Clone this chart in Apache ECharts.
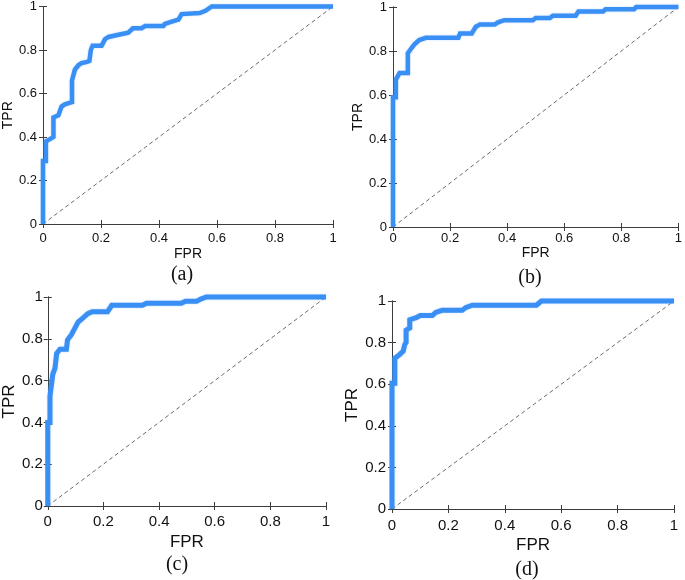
<!DOCTYPE html>
<html>
<head>
<meta charset="utf-8">
<script src="https://cdn.jsdelivr.net/npm/echarts@6/dist/echarts.min.js"></script>
<style>
html,body{margin:0;padding:0;background:#fff;}
#chart{width:685px;height:580px;}
</style>
</head>
<body>
<div id="chart"></div>
<script>
// Tick values (both axes)
const ticks = [0, 0.2, 0.4, 0.6, 0.8, 1];
const captions = ['(a)', '(b)', '(c)', '(d)'];
const xName = 'FPR';
const yName = 'TPR';
const diagX = [0, 1];
const diagY = [0, 1];

// ROC curve (a)
const fprA = [0, 0, 0.01, 0.01, 0.024, 0.036, 0.036, 0.053, 0.064, 0.075, 0.1, 0.1, 0.11, 0.122, 0.133, 0.152, 0.16, 0.165, 0.171, 0.202, 0.214, 0.226, 0.26, 0.294, 0.31, 0.34, 0.352, 0.415, 0.42, 0.444, 0.467, 0.478, 0.54, 0.56, 0.582, 1];
const tprA = [0, 0.29, 0.29, 0.38, 0.39, 0.40, 0.49, 0.50, 0.54, 0.55, 0.56, 0.66, 0.71, 0.73, 0.74, 0.745, 0.75, 0.80, 0.82, 0.82, 0.85, 0.86, 0.87, 0.88, 0.90, 0.90, 0.91, 0.91, 0.92, 0.93, 0.94, 0.965, 0.97, 0.98, 1.0, 1.0];

// ROC curve (b)
const fprB = [0, 0, 0.01, 0.01, 0.023, 0.052, 0.052, 0.063, 0.075, 0.092, 0.115, 0.229, 0.235, 0.276, 0.29, 0.305, 0.356, 0.368, 0.39, 0.49, 0.5, 0.55, 0.56, 0.64, 0.65, 0.736, 0.745, 0.845, 0.852, 1];
const tprB = [0, 0.59, 0.59, 0.67, 0.70, 0.70, 0.79, 0.81, 0.83, 0.85, 0.86, 0.86, 0.88, 0.88, 0.91, 0.92, 0.92, 0.93, 0.94, 0.94, 0.95, 0.95, 0.96, 0.96, 0.98, 0.98, 0.99, 0.99, 1, 1];

// ROC curve (c)
const fprC = [0, 0, 0.008, 0.008, 0.018, 0.026, 0.032, 0.044, 0.067, 0.071, 0.085, 0.097, 0.109, 0.127, 0.144, 0.16, 0.215, 0.23, 0.34, 0.355, 0.48, 0.495, 0.535, 0.55, 0.57, 1];
const tprC = [0, 0.40, 0.40, 0.525, 0.63, 0.66, 0.73, 0.75, 0.75, 0.795, 0.82, 0.85, 0.88, 0.90, 0.92, 0.93, 0.93, 0.96, 0.96, 0.97, 0.97, 0.98, 0.98, 0.99, 1, 1];

// ROC curve (d)
const fprD = [0, 0, 0.01, 0.01, 0.025, 0.04, 0.045, 0.05, 0.05, 0.063, 0.063, 0.086, 0.10, 0.143, 0.155, 0.178, 0.249, 0.261, 0.285, 0.512, 0.53, 1];
const tprD = [0, 0.605, 0.605, 0.725, 0.74, 0.76, 0.79, 0.80, 0.86, 0.87, 0.91, 0.92, 0.93, 0.93, 0.945, 0.955, 0.955, 0.968, 0.98, 0.98, 1, 1];

const curves = [[fprA, tprA], [fprB, tprB], [fprC, tprC], [fprD, tprD]];

// Layout (pixels)
const grids = [
  {left: 43, top: 4, width: 290, height: 220},
  {left: 393, top: 7, width: 290, height: 220},
  {left: 44, top: 297, width: 282, height: 209},
  {left: 392, top: 301, width: 282, height: 208}
];
const tickFont = [13, 13, 15, 15];
const nameFont = [14, 14, 17, 17];
const xLabelMargin = [8, 5, 8, 9];
const xNameGap = [23, 14, 28, 28];
const yLabelMargin = [6, 6, 5, 6];
const yNameGap = [22, 22, 27, 27];
const lineW = [4.5, 4.5, 5, 5];
const capPos = [[182, 275], [530, 278], [177, 565], [527, 570]];

const axisColor = '#3c3c3c';
const curveColor = '#3a8ff5';
const font = 'Liberation Sans, Arial, sans-serif';

const xAxis = [], yAxis = [], series = [], graphic = [];
grids.forEach((g, i) => {
  const base = {
    type: 'value', min: ticks[0], max: ticks[ticks.length - 1], interval: ticks[1] - ticks[0],
    gridIndex: i, splitLine: {show: false},
    axisLine: {show: true, lineStyle: {color: axisColor, width: 1}},
    axisTick: {show: true, inside: true, length: 4, lineStyle: {color: axisColor}}
  };
  xAxis.push(Object.assign({}, base, {
    position: 'bottom',
    axisLabel: {color: '#111', fontFamily: font, fontSize: tickFont[i], margin: xLabelMargin[i]},
    name: xName, nameLocation: 'middle', nameGap: xNameGap[i],
    nameTextStyle: {color: '#111', fontFamily: font, fontSize: nameFont[i]}
  }));
  xAxis.push(Object.assign({}, base, {position: 'top', axisLabel: {show: false}}));
  yAxis.push(Object.assign({}, base, {
    position: 'left',
    axisLabel: {color: '#111', fontFamily: font, fontSize: tickFont[i], margin: yLabelMargin[i]},
    name: yName, nameLocation: 'middle', nameGap: yNameGap[i],
    nameTextStyle: {color: '#111', fontFamily: font, fontSize: nameFont[i]}
  }));
  yAxis.push(Object.assign({}, base, {position: 'right', axisLabel: {show: false}}));

  series.push({
    type: 'line', xAxisIndex: 2 * i, yAxisIndex: 2 * i,
    data: diagX.map((x, k) => [x, diagY[k]]),
    symbol: 'none', silent: true,
    lineStyle: {color: '#444', width: 0.8, type: [4, 3]}, z: 2
  });
  const [fx, ty] = curves[i];
  series.push({
    type: 'line', xAxisIndex: 2 * i, yAxisIndex: 2 * i,
    data: fx.map((x, k) => [x, ty[k]]),
    symbol: 'none', clip: false, silent: true,
    lineStyle: {color: curveColor, width: lineW[i], join: 'miter', shadowColor: 'rgba(58,143,245,0.35)', shadowBlur: 2}, z: 3
  });

  graphic.push({
    type: 'text', x: capPos[i][0], y: capPos[i][1],
    style: {text: captions[i], font: '20px "Liberation Serif", "Times New Roman", serif',
      fill: '#111', textAlign: 'center', textVerticalAlign: 'middle'}
  });
});

const chart = echarts.init(document.getElementById('chart'), null, {renderer: 'canvas'});
chart.setOption({
  animation: false,
  backgroundColor: '#fff',
  grid: grids.map(g => Object.assign({containLabel: false}, g)),
  xAxis, yAxis, series, graphic
});
</script>
</body>
</html>
